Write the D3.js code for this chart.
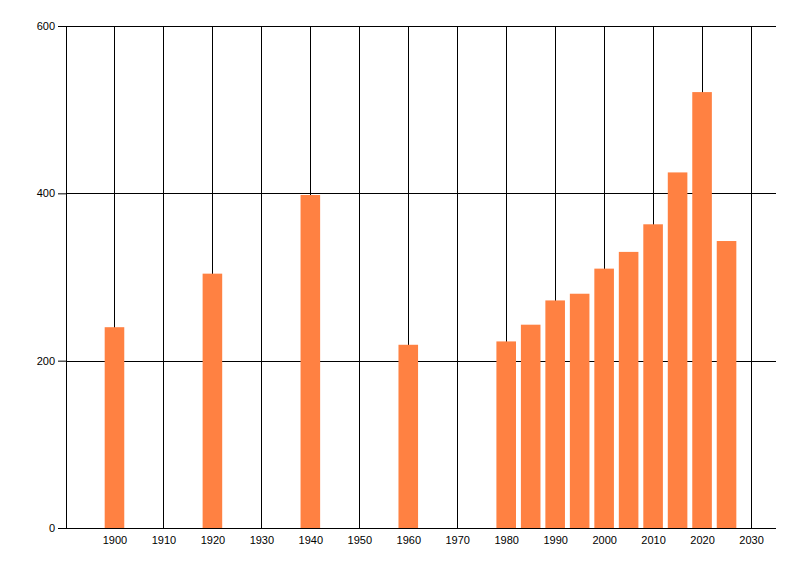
<!DOCTYPE html>
<html>
  <head>
    <script src="https://d3js.org/d3.v7.min.js" charset="utf-8"></script>
    <style>
      body { margin: 0; background: #fff; }
      .tick text { font-family: "Liberation Sans", Arial, sans-serif; font-size: 11px; fill: #000; }
    </style>
  </head>
  <body>
    <svg></svg>
    <script>
      const years = [1900, 1920, 1940, 1960, 1980, 1985, 1990, 1995, 2000, 2005, 2010, 2015, 2020, 2025];
      const values = [240, 304, 398, 219, 223, 243, 272, 280, 310, 330, 363, 425, 521, 343];
      const xTicks = [1900, 1910, 1920, 1930, 1940, 1950, 1960, 1970, 1980, 1990, 2000, 2010, 2020, 2030];
      const yTicks = [0, 200, 400, 600];

      const margin = { top: 26, right: 24, bottom: 48, left: 66 };
      const width = 800 - margin.left - margin.right;
      const height = 576 - margin.top - margin.bottom;

      const svg = d3
        .select("svg")
        .attr("width", 800)
        .attr("height", 576)
        .append("g")
        .attr("transform", `translate(${margin.left}, ${margin.top})`);

      const x = d3.scaleLinear().domain([1890.1, 2035.1]).range([0, width]);
      const y = d3.scaleLinear().domain([0, 600]).range([height, 0]);

      // grid lines
      svg
        .selectAll(".vgrid")
        .data(xTicks)
        .enter()
        .append("line")
        .attr("x1", (d) => Math.round(x(d)) + 0.5)
        .attr("x2", (d) => Math.round(x(d)) + 0.5)
        .attr("y1", 0)
        .attr("y2", height)
        .attr("stroke", "#000")
        .attr("stroke-width", 1);

      svg
        .selectAll(".hgrid")
        .data(yTicks.slice(1))
        .enter()
        .append("line")
        .attr("x1", 0)
        .attr("x2", width)
        .attr("y1", (d) => Math.round(y(d)) + 0.5)
        .attr("y2", (d) => Math.round(y(d)) + 0.5)
        .attr("stroke", "#000")
        .attr("stroke-width", 1);

      // bars
      const data = years.map((yr, i) => ({ year: yr, value: values[i] }));
      svg
        .selectAll(".bar")
        .data(data)
        .enter()
        .append("rect")
        .attr("x", (d) => x(d.year - 2))
        .attr("width", (d) => x(d.year + 2) - x(d.year - 2))
        .attr("y", (d) => y(d.value))
        .attr("height", (d) => height - y(d.value))
        .attr("fill", "#ff8142");

      // axes
      const xAxis = svg
        .append("g")
        .attr("transform", `translate(0, ${height})`)
        .call(d3.axisBottom(x).tickValues(xTicks).tickFormat(d3.format("d")).tickSize(0).tickPadding(8));
      xAxis.select(".domain").attr("d", `M0,0.5H${width}`).attr("stroke", "#000");

      const yAxis = svg
        .append("g")
        .call(d3.axisLeft(y).tickValues(yTicks).tickSize(8).tickPadding(3));
      yAxis.select(".domain").attr("d", `M0.5,0V${height}`).attr("stroke", "#000");
    </script>
  </body>
</html>
